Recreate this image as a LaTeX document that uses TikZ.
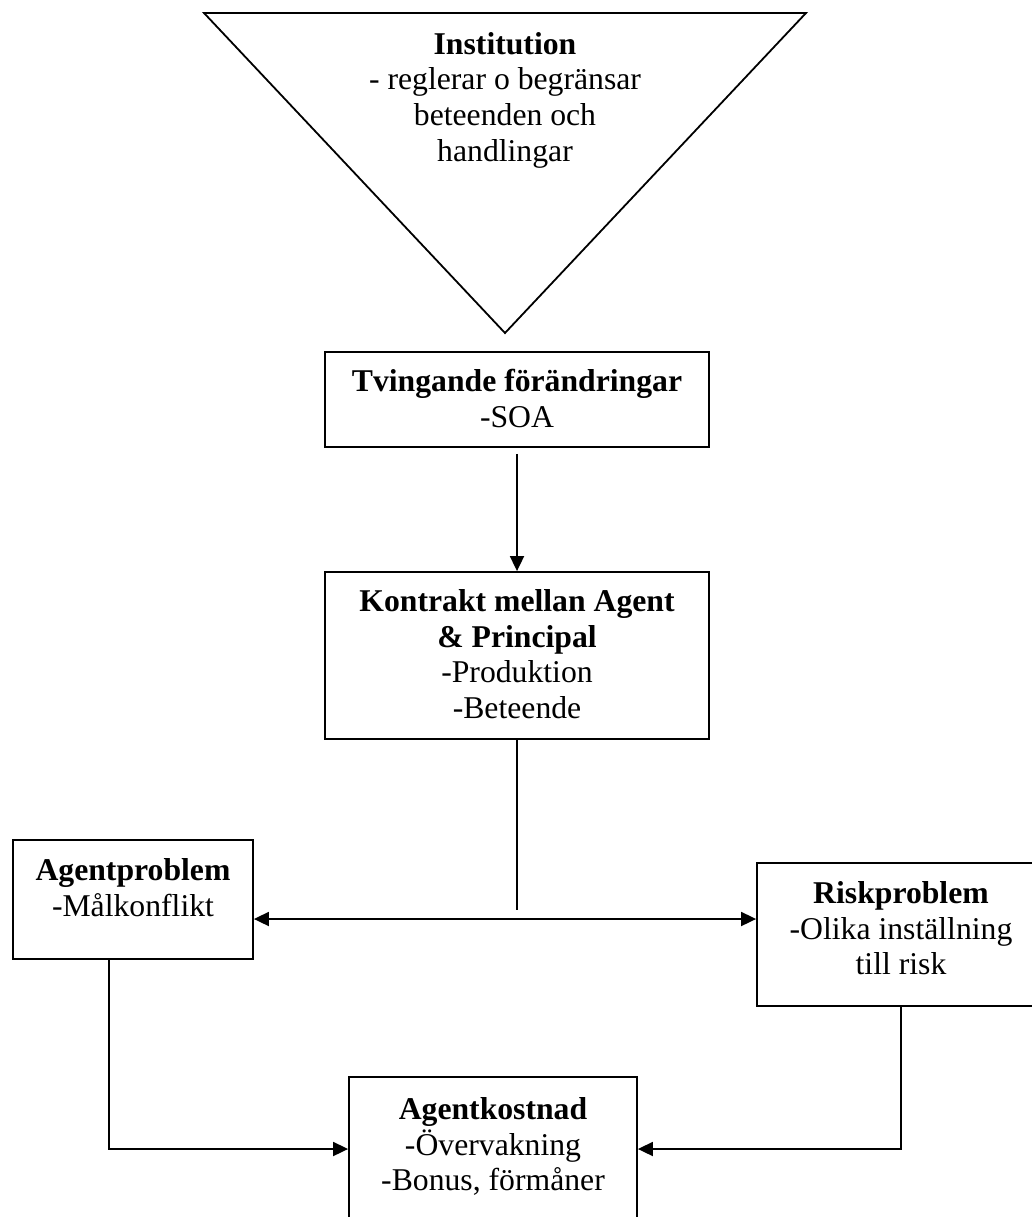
\documentclass[tikz,border=0pt]{standalone}
\usepackage{fontspec}
\setmainfont{Liberation Serif}
\usetikzlibrary{arrows.meta}
\begin{document}
\begin{tikzpicture}[x=1pt,y=-1pt,
  box/.style={draw, line width=1.8pt, inner sep=0pt},
  txt/.style={align=center, inner sep=0pt, anchor=north, font=\fontsize{31.7}{35.8}\selectfont},
  ln/.style={line width=1.8pt},
  arr/.style={line width=1.8pt, -{Triangle[length=15pt,width=14pt]}},
  darr/.style={line width=1.8pt, {Triangle[length=15pt,width=14pt]}-{Triangle[length=15pt,width=14pt]}}]
\useasboundingbox (0,0) rectangle (1032,1217);
\clip (0,0) rectangle (1032,1217);
% triangle
\coordinate (tl) at (204,13);
\coordinate (tr) at (806,13);
\coordinate (apex) at (505,333);
\draw[ln, line join=miter] (tl) -- (tr) -- (apex) -- cycle;
\node[txt] (inst) at (505,32) {\textbf{Institution}\\- reglerar o begränsar\\beteenden och\\handlingar};
% boxes
\node[box, minimum width=384pt, minimum height=95pt] (tv) at (517,399.5) {};
\node[txt] (tvt) at (517,369) {\textbf{Tvingande förändringar}\\-SOA};
\node[box, minimum width=384pt, minimum height=167pt] (kp) at (517,655.5) {};
\node[txt] (kpt) at (517,589) {\textbf{Kontrakt mellan Agent}\\\textbf{\& Principal}\\-Produktion\\-Beteende};
\node[box, minimum width=240pt, minimum height=119pt] (ap) at (133,899.5) {};
\node[txt] (apt) at (133,858) {\textbf{Agentproblem}\\-Målkonflikt};
\node[box, minimum width=288pt, minimum height=143pt] (rp) at (901,934.5) {};
\node[txt] (rpt) at (901,881) {\textbf{Riskproblem}\\-Olika inställning\\till risk};
\node[box, minimum width=288pt, minimum height=183pt] (ak) at (493,1168.5) {};
\node[txt] (akt) at (493,1097) {\textbf{Agentkostnad}\\-Övervakning\\-Bonus, förmåner};
% connectors
\coordinate (kend) at (517,910);
\coordinate (hm) at (517,919);
\coordinate (aturn) at (109,1149);
\coordinate (rturn) at (901,1149);
\draw[arr, shorten <=6pt] (tv.south) -- (kp.north);
\draw[ln] (kp.south) -- (kend);
\draw[darr] (ap.east |- hm) -- (rp.west |- hm);
\draw[arr] (ap.south -| aturn) -- (aturn) -- (ak.west |- aturn);
\draw[arr] (rp.south -| rturn) -- (rturn) -- (ak.east |- rturn);
\end{tikzpicture}
\end{document}
